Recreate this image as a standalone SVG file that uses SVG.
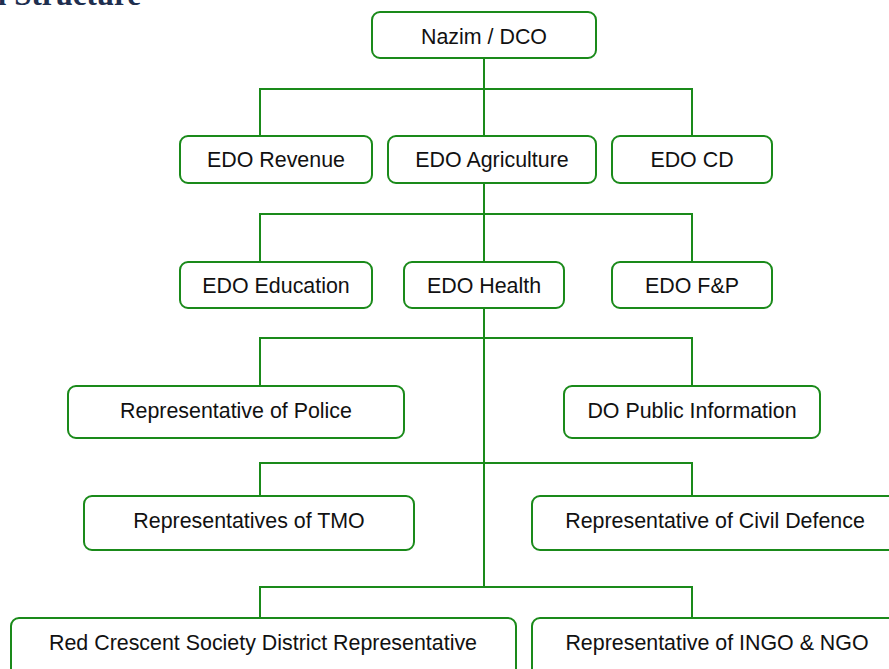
<svg xmlns="http://www.w3.org/2000/svg" width="889" height="669" viewBox="0 0 889 669">
<style>
.box{fill:#fff;stroke:#1a8a1a;stroke-width:2}
.lbl{font-family:"Liberation Sans",Arial,sans-serif;font-size:21.4px;fill:#111;text-anchor:middle}
.conn{fill:none;stroke:#1a8a1a;stroke-width:2}
.title{font-family:"Liberation Serif","Times New Roman",serif;font-weight:bold;font-size:31px;fill:#1f2f4f;text-anchor:end}
</style>
<rect width="889" height="669" fill="#fff"/>
<text class="title" x="141" y="5">l Structure</text>
<g id="connectors">
<path class="conn" d="M484 58V136M484 183V262M484 308V587"/>
<path class="conn" d="M260 136V89H692V136"/>
<path class="conn" d="M260 262V214H692V262"/>
<path class="conn" d="M260 386V338H692V386"/>
<path class="conn" d="M260 496V463H692V496"/>
<path class="conn" d="M260 618V587H692V618"/>
</g>
<g id="nazim"><rect class="box" x="372" y="12" width="224" height="46" rx="8"/><text class="lbl" x="484" y="44">Nazim / DCO</text></g>
<g id="edo-revenue"><rect class="box" x="180" y="136" width="192" height="47" rx="8"/><text class="lbl" x="276" y="167">EDO Revenue</text></g>
<g id="edo-agriculture"><rect class="box" x="388" y="136" width="208" height="47" rx="8"/><text class="lbl" x="492" y="167">EDO Agriculture</text></g>
<g id="edo-cd"><rect class="box" x="612" y="136" width="160" height="47" rx="8"/><text class="lbl" x="692" y="167">EDO CD</text></g>
<g id="edo-education"><rect class="box" x="180" y="262" width="192" height="46" rx="8"/><text class="lbl" x="276" y="293">EDO Education</text></g>
<g id="edo-health"><rect class="box" x="404" y="262" width="160" height="46" rx="8"/><text class="lbl" x="484" y="293">EDO Health</text></g>
<g id="edo-fp"><rect class="box" x="612" y="262" width="160" height="46" rx="8"/><text class="lbl" x="692" y="293">EDO F&amp;P</text></g>
<g id="police"><rect class="box" x="68" y="386" width="336" height="52" rx="8"/><text class="lbl" x="236" y="418">Representative of Police</text></g>
<g id="do-public-info"><rect class="box" x="564" y="386" width="256" height="52" rx="8"/><text class="lbl" x="692" y="418">DO Public Information</text></g>
<g id="tmo"><rect class="box" x="84" y="496" width="330" height="54" rx="8"/><text class="lbl" x="249" y="528">Representatives of TMO</text></g>
<g id="civil-defence"><rect class="box" x="532" y="496" width="366" height="54" rx="8"/><text class="lbl" x="715" y="528">Representative of Civil Defence</text></g>
<g id="red-crescent"><rect class="box" x="11" y="618" width="505" height="70" rx="8"/><text class="lbl" x="263" y="650">Red Crescent Society District Representative</text></g>
<g id="ingo-ngo"><rect class="box" x="532" y="618" width="370" height="70" rx="8"/><text class="lbl" x="717" y="650">Representative of INGO &amp; NGO</text></g>
</svg>
